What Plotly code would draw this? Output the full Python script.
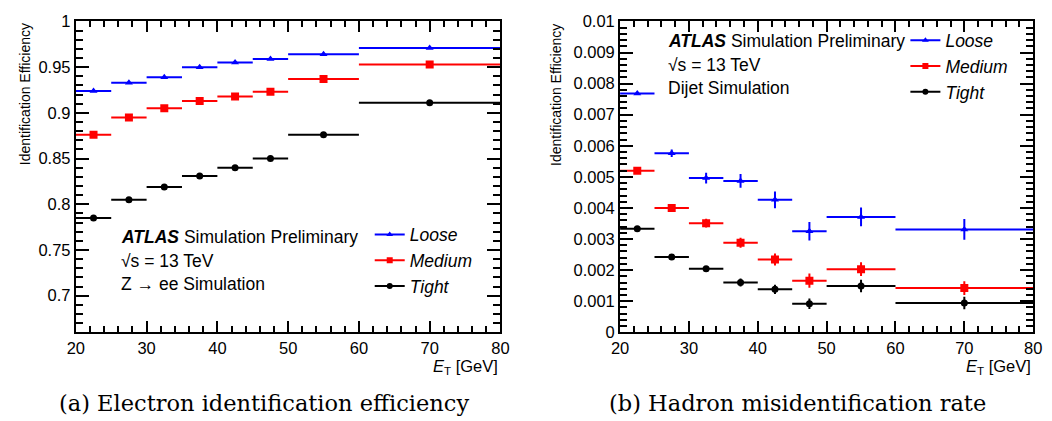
import plotly.graph_objects as go

# ---------------- data ----------------
et_center = [22.5, 27.5, 32.5, 37.5, 42.5, 47.5, 55, 70]
et_halfwidth = [2.5, 2.5, 2.5, 2.5, 2.5, 2.5, 5, 10]

# (a) electron identification efficiency
eff_loose = [0.924, 0.933, 0.939, 0.950, 0.955, 0.959, 0.964, 0.971]
eff_medium = [0.876, 0.895, 0.905, 0.913, 0.918, 0.923, 0.937, 0.953]
eff_tight = [0.785, 0.805, 0.819, 0.831, 0.840, 0.850, 0.876, 0.911]
eff_err = [0.0005, 0.0005, 0.0005, 0.0005, 0.0005, 0.0005, 0.0005, 0.0005]

# (b) hadron misidentification rate
mis_loose = [0.00768, 0.00576, 0.00496, 0.00487, 0.00426, 0.00325, 0.00371, 0.00331]
mis_loose_err = [0.00005, 0.00012, 0.00017, 0.00022, 0.00027, 0.00030, 0.00030, 0.00033]
mis_medium = [0.00520, 0.00400, 0.00351, 0.00288, 0.00234, 0.00166, 0.00203, 0.00142]
mis_medium_err = [0.00005, 0.00008, 0.00014, 0.00016, 0.00019, 0.00023, 0.00022, 0.00022]
mis_tight = [0.00333, 0.00242, 0.00204, 0.00160, 0.00138, 0.00092, 0.00149, 0.00094]
mis_tight_err = [0.00004, 0.00005, 0.00007, 0.00013, 0.00015, 0.00017, 0.00020, 0.00020]

names = ["Loose", "Medium", "Tight"]
colors = ["#0000ff", "#ff0000", "#000000"]
symbols = ["triangle-up", "square", "circle"]
msizes = [7, 8, 7]

W, H = 1052, 421
SANS = "Liberation Sans, Arial, sans-serif"
SERIF = "DejaVu Serif, serif"

fig = go.Figure()


def add_series(y, err, i, xa, ya):
    fig.add_trace(go.Scatter(
        x=et_center, y=y, mode="markers",
        marker=dict(color=colors[i], symbol=symbols[i], size=msizes[i], line=dict(width=0)),
        error_x=dict(type="data", array=et_halfwidth, color=colors[i], thickness=2, width=0),
        error_y=dict(type="data", array=err, color=colors[i], thickness=2, width=0),
        xaxis=xa, yaxis=ya, showlegend=False, hoverinfo="x+y"))


for i, y in enumerate([eff_loose, eff_medium, eff_tight]):
    add_series(y, eff_err, i, "x", "y")
for i, (y, e) in enumerate(zip([mis_loose, mis_medium, mis_tight],
                               [mis_loose_err, mis_medium_err, mis_tight_err])):
    add_series(y, e, i, "x2", "y2")

# legend entries
for lg, xa, ya in [("legend", "x", "y"), ("legend2", "x2", "y2")]:
    for i in range(3):
        fig.add_trace(go.Scatter(
            x=[None], y=[None], mode="lines+markers", name=names[i],
            line=dict(color=colors[i], width=2),
            marker=dict(color=colors[i], symbol=symbols[i], size=6),
            xaxis=xa, yaxis=ya, legend=lg, legendgroup=lg + str(i)))

ydom = [1 - 337.7 / H, 1 - 13 / H]
xdom1 = [68 / W, 500 / W]
xdom2 = [621.7 / W, 1042 / W]

TICKFONT = dict(family=SANS, size=16.5, color="black")
common_x = dict(range=[20, 80], tick0=0, dtick=10, ticks="inside", ticklen=11, tickwidth=1.5,
                tickcolor="black", showline=True, linewidth=2, linecolor="black",
                mirror="allticks", showgrid=False, zeroline=False, tickfont=TICKFONT,
                minor=dict(ticks="inside", ticklen=6, tickwidth=1.5, tickcolor="black", dtick=2, showgrid=False))
common_y = dict(ticks="inside", ticklen=13, tickwidth=1.5, tickcolor="black", showline=True,
                linewidth=2, linecolor="black", mirror="allticks", showgrid=False, zeroline=False,
                tickfont=TICKFONT)

LEGFONT = dict(family=SANS, size=17.5, style="italic", color="black")
fig.update_layout(
    width=W, height=H, margin=dict(l=0, r=0, t=0, b=0),
    paper_bgcolor="white", plot_bgcolor="white",
    font=dict(family=SANS, color="black"),
    xaxis=dict(domain=xdom1, anchor="y", **common_x),
    xaxis2=dict(domain=xdom2, anchor="y2", **common_x),
    yaxis=dict(domain=ydom, anchor="x", range=[0.66, 1], tick0=0, dtick=0.05, tickformat=".2~f",
               minor=dict(ticks="inside", ticklen=7, tickwidth=1.5, tickcolor="black", dtick=0.01, showgrid=False),
               **common_y),
    yaxis2=dict(domain=ydom, anchor="x2", range=[0, 0.01], tick0=0, dtick=0.001, tickformat=".3~f",
                minor=dict(ticks="inside", ticklen=7, tickwidth=1.5, tickcolor="black", dtick=0.0002, showgrid=False),
                **common_y),
    legend=dict(x=367 / W, y=1 - 217 / H, xanchor="left", yanchor="top", bgcolor="rgba(0,0,0,0)",
                font=LEGFONT, traceorder="grouped", tracegroupgap=0, itemwidth=30),
    legend2=dict(x=912 / W, y=1 - 14 / H, xanchor="left", yanchor="top", bgcolor="rgba(0,0,0,0)",
                 font=LEGFONT, traceorder="grouped", tracegroupgap=0, itemwidth=30),
    showlegend=True,
)

ann = []
# text blocks
for xpx, ys, third in [(112, [238, 263, 287], "Z → ee Simulation"),
                       (668, [33, 58, 83], "Dijet Simulation")]:
    lines = ["<b><i>ATLAS</i></b> Simulation Preliminary", "√s = 13 TeV", third]
    for yy, t in zip(ys, lines):
        ann.append(dict(x=xpx / W, y=1 - yy / H, xref="paper", yref="paper", text=t,
                        showarrow=False, xanchor="left", yanchor="middle",
                        font=dict(family=SANS, size=17.5, color="black")))
# axis titles
for xpx in [17, 557]:
    ann.append(dict(x=xpx / W, y=ydom[1], xref="paper", yref="paper", text="Identification Efficiency",
                    textangle=-90, showarrow=False, xanchor="center", yanchor="top",
                    font=dict(family=SANS, size=14, color="black")))
for xr in ["x domain", "x2 domain"]:
    ann.append(dict(x=1, y=1 - 374 / H, xref=xr, yref="paper", text="<i>E</i><sub>T</sub> [GeV]",
                    showarrow=False, xanchor="right", yanchor="middle",
                    font=dict(family=SANS, size=16.5, color="black")))
# captions
ann.append(dict(x=259 / W, y=1 - 412 / H, xref="paper", yref="paper",
                text="(a) Electron identification efficiency", showarrow=False,
                xanchor="center", yanchor="middle", font=dict(family=SERIF, size=22.5, color="black")))
ann.append(dict(x=802 / W, y=1 - 412 / H, xref="paper", yref="paper",
                text="(b) Hadron misidentification rate", showarrow=False,
                xanchor="center", yanchor="middle", font=dict(family=SERIF, size=22.5, color="black")))
fig.update_layout(annotations=ann)

fig.write_html("out.html")
